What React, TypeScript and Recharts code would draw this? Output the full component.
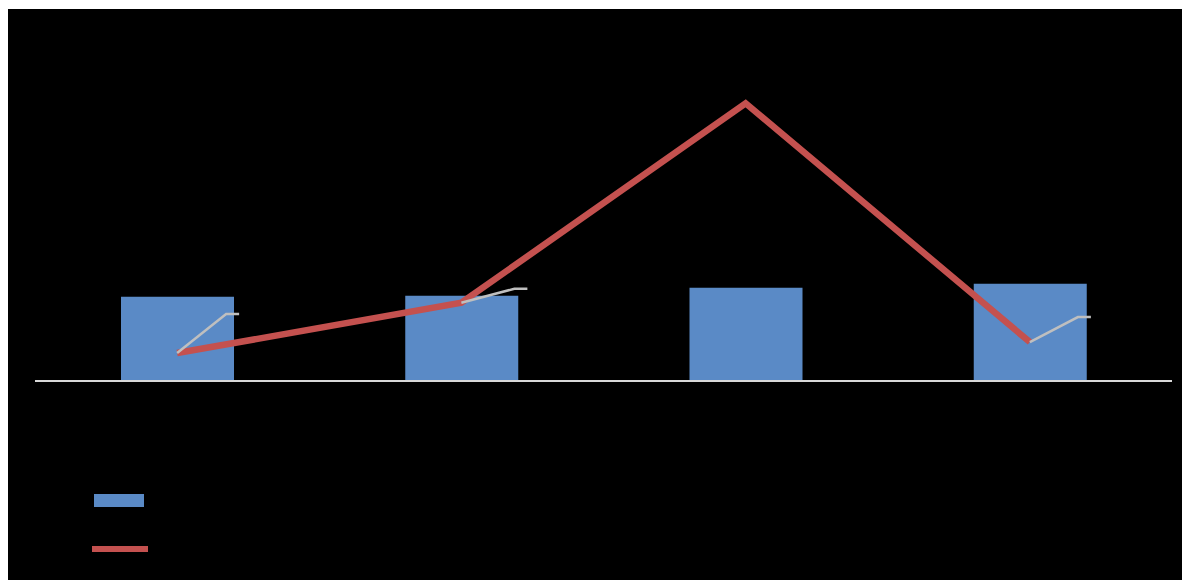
import React from 'react';
import { ComposedChart, Bar, Line, XAxis, YAxis, LabelList, ReferenceLine } from 'recharts';

const categories = ['A', 'B', 'C', 'D'];
const barValues = [25.3, 25.6, 28.0, 29.2];
const lineValues = [8.4, 23.5, 83.4, 11.7];
const seriesNames = ['Series 1', 'Series 2'];

const chartData = categories.map((c, i) => ({
  name: c,
  bars: barValues[i],
  line: lineValues[i],
}));

// leader line offsets for the (black) data labels, null = no leader
const leaders: ([number, number] | null)[] = [[49, -39], [53, -14], null, [48, -25]];

const BLUE = '#5a8ac6';
const RED = '#c4514f';
const GREY = '#bfbfbf';

const Leader = (props: any) => {
  const { x, y, index } = props;
  const l = leaders[index];
  if (!l) return null;
  const [dx, dy] = l;
  return (
    <path
      d={`M${x},${y} L${x + dx},${y + dy} L${x + dx + 13},${y + dy}`}
      fill="none"
      stroke={GREY}
      strokeWidth={2.5}
    />
  );
};

const App: React.FC = () => {
  return (
    <div style={{ position: 'relative', width: 1174, height: 572, background: '#000', marginTop: 1 }}>
      <ComposedChart
        width={1174}
        height={572}
        data={chartData}
        margin={{ top: 39, right: 10, bottom: 200, left: 27 }}
      >
        <XAxis dataKey="name" hide />
        <YAxis yAxisId="l" hide domain={[0, 100]} />
        <YAxis yAxisId="r" hide domain={[0, 100]} orientation="right" />
        <Bar yAxisId="l" dataKey="bars" name={seriesNames[0]} fill={BLUE} barSize={113} isAnimationActive={false} />
        <ReferenceLine yAxisId="l" y={0} stroke="#d9d9d9" strokeWidth={2} />
        <Line
          yAxisId="r"
          dataKey="line"
          name={seriesNames[1]}
          stroke={RED}
          strokeWidth={6.5}
          dot={false}
          activeDot={false}
          type="linear"
          isAnimationActive={false}
        >
          <LabelList dataKey="line" content={<Leader />} />
        </Line>
      </ComposedChart>
      <div style={{ position: 'absolute', left: 86, top: 485, width: 50, height: 13, background: BLUE }} />
      <div style={{ position: 'absolute', left: 84, top: 537, width: 56, height: 6, background: RED }} />
    </div>
  );
};

export default App;
